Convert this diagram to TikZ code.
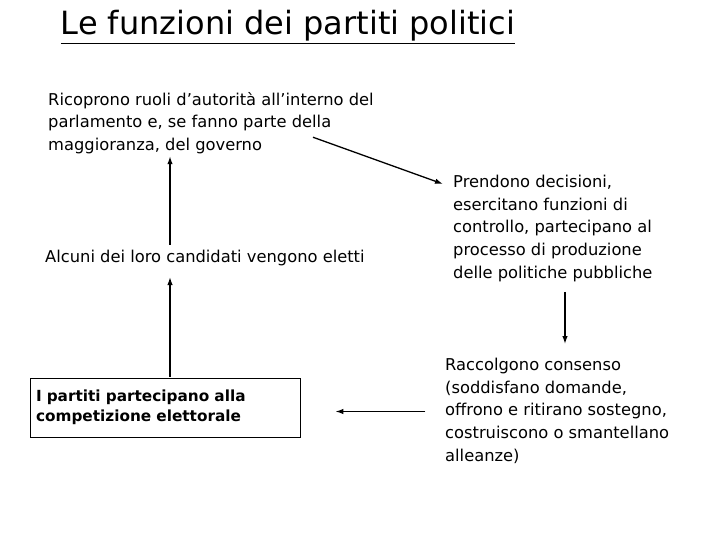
\documentclass[tikz,border=0pt]{standalone}
\usepackage{fontspec}
\setmainfont{DejaVu Sans}
\usetikzlibrary{arrows.meta,calc}

\tikzset{
  arr/.style={-{Latex[length=8pt,width=5.5pt]}, line width=1.3pt},
  txt/.style={anchor=north west, inner sep=0pt, align=left, font=\fontsize{16.3}{22.7}\selectfont},
}

\begin{document}
\begin{tikzpicture}[x=1pt,y=-1pt]
\useasboundingbox (0,0) rectangle (720,540);

\node[anchor=base] (title) at (288,35) {\fontsize{32}{36}\selectfont\underline{Le funzioni dei partiti politici}};

\node[txt] (ricoprono) at (48,92) {Ricoprono ruoli d’autorità all’interno del\\parlamento e, se fanno parte della\\maggioranza, del governo};
\node[txt, anchor=west] (alcuni) at (45,258) {Alcuni dei loro candidati vengono eletti};
\node[txt] (prendono) at (453,175) {Prendono decisioni,\\esercitano funzioni di\\controllo, partecipano al\\processo di produzione\\delle politiche pubbliche};
\node[txt] (raccolgono) at (445,358) {Raccolgono consenso\\(soddisfano domande,\\offrono e ritirano sostegno,\\costruiscono o smantellano\\alleanze)};
\node[draw, line width=0.8pt, minimum width=270pt, minimum height=59pt, text width=258pt, inner sep=6pt, align=left,
      font=\fontsize{15.3}{20}\selectfont\bfseries] (partiti) at (165,407.5) {I partiti partecipano alla\\competizione elettorale};

\draw[arr] ($(alcuni.north -| partiti.north)+(5,-5)$) -- ($(ricoprono.south -| partiti.north)+(5,2)$);
\draw[arr] ($(partiti.north)+(5,-1)$) -- ($(alcuni.south -| partiti.north)+(5,11)$);
\draw[arr] ($(ricoprono.south west)+(265,-17)$) -- ($(prendono.north west)+(-10,9)$);
\draw[arr] ($(prendono.south west)+(112,10)$) -- ($(raccolgono.north west)+(120,-14)$);
\draw[arr] ($(partiti.east)+(125,4)$) -- ($(partiti.east)+(35,4)$);
\end{tikzpicture}
\end{document}
